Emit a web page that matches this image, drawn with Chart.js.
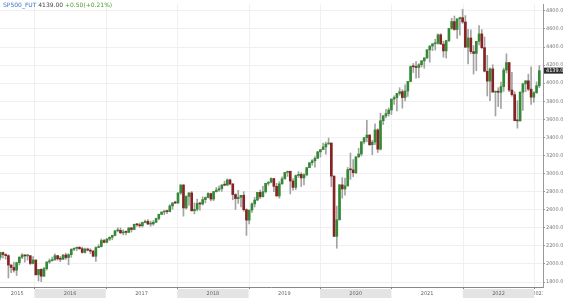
<!DOCTYPE html>
<html>
<head>
<meta charset="utf-8">
<script src="https://cdn.jsdelivr.net/npm/chart.js@4.4.0/dist/chart.umd.min.js"></script>
<style>
  html, body { margin: 0; padding: 0; background: #fff; }
  #wrap { width: 563px; height: 304px; position: relative; }
</style>
</head>
<body>
<div id="wrap"><canvas id="chart"></canvas></div>
<script>
// biweekly candles [open, high, low, close], first one starts 2015-07-06
let firstBar = '2015-07-06';
let stepDays = 14;

let bars2015 = [
  [2073, 2130, 2044, 2126], [2126, 2132, 2063, 2104], [2104, 2113, 2052, 2092],
  [2092, 2102, 1845, 1988], [1988, 1992, 1903, 1961], [1961, 2020, 1908, 1931],
  [1931, 2020, 1872, 2014], [2014, 2080, 1990, 2075], [2075, 2116, 2058, 2099],
  [2099, 2100, 2020, 2089], [2089, 2104, 2042, 2091], [2091, 2095, 1993, 2005],
  [2005, 2081, 2000, 2044]
];
let bars2016 = [
  [2044, 2044, 1878, 1880], [1880, 1940, 1812, 1940], [1940, 1947, 1805, 1865],
  [1865, 1962, 1860, 1948], [1948, 2022, 1932, 2022], [2022, 2056, 2005, 2035],
  [2035, 2075, 2033, 2048], [2048, 2111, 2039, 2092], [2092, 2096, 2040, 2057],
  [2057, 2084, 2025, 2052], [2052, 2105, 2049, 2099], [2099, 2120, 2050, 2071],
  [2071, 2113, 1991, 2103], [2103, 2169, 2074, 2162], [2162, 2178, 2147, 2173],
  [2173, 2188, 2148, 2184], [2184, 2193, 2160, 2169], [2169, 2187, 2119, 2128],
  [2128, 2175, 2119, 2165], [2165, 2175, 2145, 2153], [2153, 2169, 2114, 2141],
  [2141, 2151, 2084, 2085], [2085, 2190, 2028, 2181], [2181, 2214, 2180, 2192],
  [2192, 2278, 2187, 2259], [2259, 2273, 2233, 2239]
];
let bars2017 = [
  [2239, 2282, 2233, 2275], [2275, 2300, 2258, 2295], [2295, 2319, 2267, 2316],
  [2316, 2368, 2311, 2367], [2367, 2401, 2354, 2372], [2372, 2400, 2335, 2344],
  [2344, 2379, 2322, 2355], [2355, 2366, 2322, 2349], [2349, 2399, 2347, 2399],
  [2399, 2405, 2353, 2381], [2381, 2440, 2380, 2439], [2439, 2446, 2415, 2433],
  [2433, 2454, 2405, 2423], [2423, 2463, 2407, 2459], [2459, 2484, 2455, 2472],
  [2472, 2490, 2437, 2441], [2441, 2474, 2417, 2443], [2443, 2480, 2428, 2461],
  [2461, 2508, 2459, 2502], [2502, 2552, 2488, 2549], [2549, 2575, 2545, 2575],
  [2575, 2588, 2544, 2587], [2587, 2597, 2557, 2579], [2579, 2657, 2576, 2642],
  [2642, 2679, 2605, 2675], [2675, 2695, 2667, 2674]
];
let bars2018 = [
  [2674, 2787, 2670, 2786], [2786, 2878, 2769, 2873], [2873, 2880, 2529, 2620],
  [2620, 2754, 2608, 2747], [2747, 2789, 2647, 2786], [2786, 2802, 2585, 2588],
  [2588, 2676, 2553, 2604], [2604, 2717, 2586, 2670], [2670, 2684, 2594, 2663],
  [2663, 2743, 2652, 2712], [2712, 2742, 2676, 2735], [2735, 2791, 2731, 2779],
  [2779, 2785, 2698, 2718], [2718, 2804, 2699, 2801], [2801, 2848, 2795, 2818],
  [2818, 2863, 2802, 2833], [2833, 2876, 2802, 2874], [2874, 2917, 2864, 2872],
  [2872, 2941, 2868, 2930], [2930, 2940, 2875, 2885], [2885, 2890, 2710, 2768],
  [2768, 2776, 2603, 2723], [2723, 2815, 2670, 2736], [2736, 2760, 2631, 2760],
  [2760, 2800, 2583, 2600], [2600, 2610, 2316, 2485]
];
let bars2019 = [
  [2485, 2597, 2443, 2596], [2596, 2675, 2571, 2665], [2665, 2738, 2630, 2707],
  [2707, 2793, 2700, 2792], [2792, 2817, 2722, 2743], [2743, 2860, 2741, 2800],
  [2800, 2894, 2786, 2892], [2892, 2910, 2869, 2905], [2905, 2954, 2897, 2945],
  [2945, 2946, 2801, 2859], [2859, 2892, 2750, 2752], [2752, 2910, 2728, 2886],
  [2886, 2964, 2884, 2942], [2942, 3014, 2940, 3013], [3013, 3028, 2968, 3025],
  [3025, 3029, 2775, 2918], [2918, 2945, 2817, 2847], [2847, 2985, 2822, 2978],
  [2978, 3022, 2957, 2992], [2992, 3010, 2856, 2952], [2952, 3000, 2873, 2986],
  [2986, 3066, 2975, 3066], [3066, 3120, 3066, 3120], [3120, 3154, 3092, 3141],
  [3141, 3188, 3070, 3169], [3169, 3248, 3166, 3240]
];
let bars2020 = [
  [3240, 3267, 3182, 3265], [3265, 3337, 3265, 3295], [3295, 3347, 3214, 3327],
  [3327, 3393, 3325, 3338], [3338, 3340, 2855, 2972], [2972, 2976, 2305, 2305],
  [2305, 2640, 2174, 2489], [2489, 2880, 2485, 2875], [2875, 2955, 2727, 2830],
  [2830, 2950, 2760, 2864], [2864, 3068, 2860, 3044], [3044, 3227, 2936, 3041],
  [3041, 3155, 2965, 3009], [3009, 3184, 2999, 3185], [3185, 3279, 3178, 3216],
  [3216, 3352, 3195, 3351], [3351, 3399, 3328, 3397], [3397, 3588, 3350, 3426],
  [3426, 3430, 3310, 3319], [3319, 3369, 3209, 3348], [3348, 3549, 3320, 3483],
  [3483, 3496, 3233, 3270], [3270, 3668, 3260, 3585], [3585, 3644, 3542, 3638],
  [3638, 3712, 3616, 3663], [3663, 3726, 3636, 3703]
];
let bars2021 = [
  [3703, 3826, 3652, 3824], [3824, 3859, 3764, 3841], [3841, 3887, 3694, 3886],
  [3886, 3950, 3866, 3906], [3906, 3928, 3723, 3841], [3841, 3983, 3805, 3913],
  [3913, 4020, 3853, 4019], [4019, 4191, 4014, 4185], [4185, 4218, 4118, 4181],
  [4181, 4238, 4056, 4174], [4174, 4217, 4061, 4204], [4204, 4250, 4179, 4247],
  [4247, 4281, 4165, 4280], [4280, 4372, 4270, 4369], [4369, 4415, 4233, 4411],
  [4411, 4438, 4360, 4436], [4436, 4486, 4367, 4441], [4441, 4545, 4432, 4535],
  [4535, 4548, 4432, 4432], [4432, 4465, 4288, 4357], [4357, 4475, 4278, 4471],
  [4471, 4608, 4460, 4605], [4605, 4718, 4595, 4682], [4682, 4743, 4585, 4594],
  [4594, 4712, 4495, 4712], [4712, 4731, 4532, 4725]
];
let bars2022 = [
  [4725, 4818, 4662, 4677], [4677, 4748, 4395, 4398], [4398, 4595, 4212, 4500],
  [4500, 4590, 4327, 4349], [4349, 4416, 4101, 4329], [4329, 4464, 4138, 4463],
  [4463, 4637, 4424, 4545], [4545, 4593, 4381, 4393], [4393, 4512, 4125, 4132],
  [4132, 4308, 3858, 4023], [4023, 4169, 3807, 4158], [4158, 4204, 3900, 3901],
  [3901, 3911, 3637, 3911], [3911, 3950, 3741, 3899], [3899, 4012, 3722, 3962],
  [3962, 4167, 3910, 4145], [4145, 4325, 4113, 4228], [4228, 4230, 3907, 3924],
  [3924, 4119, 3855, 3873], [3873, 3905, 3584, 3586], [3586, 3806, 3502, 3583],
  [3583, 3905, 3580, 3901], [3901, 4002, 3698, 3993], [3993, 4028, 3906, 4026],
  [4026, 4100, 3918, 3934], [3934, 4180, 3764, 3845]
];
let bars2023 = [
  [3845, 3907, 3788, 3895], [3895, 4015, 3887, 3972], [3972, 4195, 3950, 4139]
];

let yearLabels = ['2015', '2016', '2017', '2018', '2019', '2020', '2021', '2022', '2023'];
let yTicks = [1800, 2000, 2200, 2400, 2600, 2800, 3000, 3200, 3400, 3600, 3800, 4000, 4200, 4400, 4600, 4800];
let lastPrice = 4139.00;

let upColor = '#348a34';
let downColor = '#862323';
let wickColor = '#a3a3a3';

function decimalYear(ms) {
  let y = new Date(ms).getUTCFullYear();
  let a = Date.UTC(y, 0, 1), b = Date.UTC(y + 1, 0, 1);
  return y + (ms - a) / (b - a);
}

let allBars = [].concat(bars2015, bars2016, bars2017, bars2018, bars2019,
                        bars2020, bars2021, bars2022, bars2023);
let startMs = Date.parse(firstBar + 'T00:00:00Z') + 4 * 864e5; // mid of the 2 weeks
let times = allBars.map((b, i) => decimalYear(startMs + i * stepDays * 864e5));

let wickData = allBars.map((b, i) => ({x: times[i], y: [b[2], b[1]]}));
let bodyData = allBars.map((b, i) => ({x: times[i], y: [Math.min(b[0], b[3]), Math.max(b[0], b[3])]}));
let bodyColors = allBars.map(b => b[3] >= b[0] ? upColor : downColor);

// bottom year strip, year grid, header and price tag
let decorations = {
  id: 'decorations',
  beforeDatasetsDraw(chart) {
    let {ctx, chartArea: a, scales: {x}} = chart;
    ctx.save();
    ctx.strokeStyle = '#f0f0f0';
    ctx.lineWidth = 1;
    yearLabels.forEach(lbl => {
      let px = Math.round(x.getPixelForValue(+lbl)) + 0.5;
      if (px <= a.left || px >= a.right) return;
      ctx.beginPath();
      ctx.moveTo(px, a.top);
      ctx.lineTo(px, a.bottom);
      ctx.stroke();
    });
    ctx.restore();
  },
  afterDraw(chart) {
    let {ctx, chartArea: a, scales: {x, y}} = chart;
    ctx.save();

    // year strip
    let top = a.bottom;
    ctx.fillStyle = '#fff';
    ctx.fillRect(a.left, top, a.right - a.left, 13);
    yearLabels.forEach((lbl, i) => {
      let x0 = Math.max(a.left, x.getPixelForValue(+lbl));
      let x1 = Math.min(a.right, x.getPixelForValue(+lbl + 1));
      if (x1 <= x0) return;
      if (i % 2 === 1) {
        ctx.fillStyle = '#e4e4e4';
        ctx.fillRect(x0, top + 2, x1 - x0, 9);
      }
      ctx.save();
      ctx.beginPath();
      ctx.rect(x0, top, x1 - x0, 13);
      ctx.clip();
      ctx.fillStyle = '#666';
      ctx.font = '5px "DejaVu Sans"';
      ctx.textAlign = 'center';
      ctx.textBaseline = 'middle';
      ctx.fillText(lbl, (x0 + x1) / 2, top + 6.5);
      ctx.restore();
      // small tick mark at year start
      let px = Math.round(x.getPixelForValue(+lbl)) + 0.5;
      if (px > a.left && px < a.right) {
        ctx.strokeStyle = '#888';
        ctx.beginPath();
        ctx.moveTo(px, top);
        ctx.lineTo(px, top + 2);
        ctx.stroke();
      }
    });
    ctx.strokeStyle = '#888';
    ctx.beginPath();
    ctx.moveTo(a.left, top + 0.5);
    ctx.lineTo(a.right, top + 0.5);
    ctx.stroke();

    // price tag on the right axis
    let py = y.getPixelForValue(lastPrice);
    ctx.fillStyle = '#2b2b2b';
    ctx.fillRect(a.right + 1, py - 3, 30, 6);
    ctx.fillStyle = '#fff';
    ctx.font = '5px "DejaVu Sans"';
    ctx.textAlign = 'left';
    ctx.textBaseline = 'middle';
    ctx.fillText(lastPrice.toFixed(2), a.right + 3, py + 0.5);

    // header
    ctx.font = '6px "DejaVu Sans"';
    ctx.textBaseline = 'middle';
    let hx = 3, hy = 5;
    let parts = [['SP500_FUT ', '#3d6fc9'], ['4139.00 ', '#444'], ['+0.50(+0.21%)', '#4f9a2c']];
    parts.forEach(p => {
      ctx.fillStyle = p[1];
      ctx.fillText(p[0], hx, hy);
      hx += ctx.measureText(p[0]).width;
    });
    ctx.restore();
  }
};

new Chart('chart', {
  type: 'bar',
  data: {
    datasets: [
      {
        data: wickData,
        backgroundColor: wickColor,
        barThickness: 1,
        grouped: false,
        order: 2
      },
      {
        data: bodyData,
        backgroundColor: bodyColors,
        barThickness: 2,
        minBarLength: 1,
        grouped: false,
        order: 1
      }
    ]
  },
  options: {
    responsive: true,
    maintainAspectRatio: false,
    animation: false,
    devicePixelRatio: 1,
    layout: {padding: {top: 0, right: 0, bottom: 17, left: 0}},
    plugins: {legend: {display: false}, tooltip: {enabled: false}},
    scales: {
      x: {
        type: 'linear',
        min: 2015.518,
        max: 2023.123,
        offset: false,
        grid: {offset: false},
        display: false
      },
      y: {
        position: 'right',
        min: 1745,
        max: 4876,
        afterFit: s => { s.width = 20; },
        afterBuildTicks: s => { s.ticks = yTicks.map(v => ({value: v})); },
        ticks: {
          autoSkip: false,
          includeBounds: false,
          padding: 1,
          color: '#777',
          font: {family: 'DejaVu Sans', size: 5},
          callback: v => v.toFixed(2)
        },
        grid: {
          color: '#f0f0f0',
          tickColor: '#999',
          tickLength: 2
        },
        border: {color: '#999'}
      }
    }
  },
  plugins: [decorations]
});
</script>
</body>
</html>
